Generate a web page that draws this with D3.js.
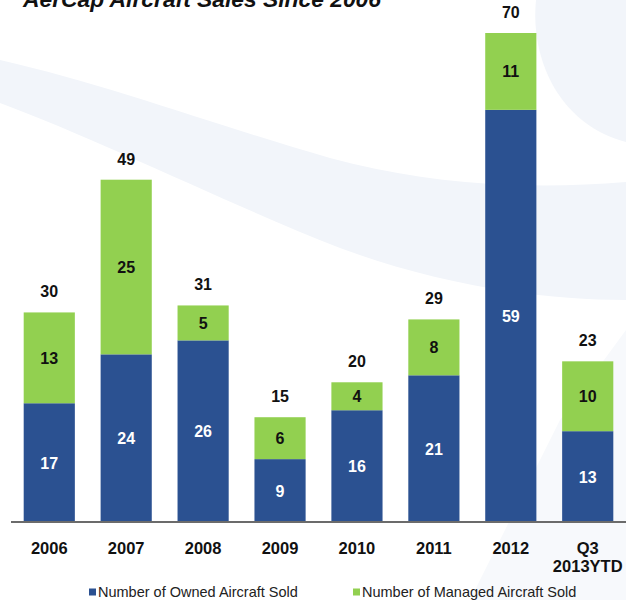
<!DOCTYPE html>
<html>
<head>
<meta charset="utf-8">
<script src="https://cdn.jsdelivr.net/npm/d3@7"></script>
<style>
  html, body { margin: 0; padding: 0; background: #ffffff; }
  svg { display: block; font-family: "Liberation Sans", Arial, sans-serif; }
</style>
</head>
<body>
<svg id="chart" width="626" height="600"></svg>
<script>
// Aircraft sales per year, split into owned and managed aircraft
const categories = ["2006", "2007", "2008", "2009", "2010", "2011", "2012", "Q3\n2013YTD"];
const owned   = [17, 24, 26, 9, 16, 21, 59, 13];
const managed = [13, 25, 5, 6, 4, 8, 11, 10];
const seriesNames = ["Number of Owned Aircraft Sold", "Number of Managed Aircraft Sold"];
const seriesColors = ["#2b5191", "#92d050"];
const titleText = "AerCap Aircraft Sales Since 2006";

const svg = d3.select("#chart");

// Soft decorative swooshes in the background
const bg = svg.append("g").attr("fill", "#f2f5fa");
bg.append("path")
  .attr("d", "M0,60 C110,85 230,130 330,158 C430,185 530,190 626,182 L626,300 C540,300 440,285 340,248 C230,205 100,140 0,103 Z");
bg.append("path")
  .attr("d", "M536,0 C530,60 560,125 626,142 L626,0 Z");
bg.append("path")
  .attr("fill", "#f7f9fc")
  .attr("d", "M470,600 L560,420 L626,330 L626,600 Z");

const data = categories.map((c, i) => ({ cat: c, owned: owned[i], managed: managed[i] }));
const stack = d3.stack().keys(["owned", "managed"])(data);

const x = d3.scaleBand().domain(categories).range([11, 626]).paddingInner(0.335).paddingOuter(0.165);
const y = d3.scaleLinear().domain([0, 70]).range([522, 33]);

// Title (runs off the top edge)
svg.append("text")
  .attr("x", 23).attr("y", 7)
  .attr("font-size", 22).attr("font-weight", "bold").attr("font-style", "italic")
  .attr("fill", "#111")
  .attr("textLength", 358).attr("lengthAdjust", "spacingAndGlyphs")
  .text(titleText);

// Stacked bars
const layers = svg.append("g").selectAll("g")
  .data(stack).join("g")
  .attr("fill", (d, i) => seriesColors[i]);

layers.selectAll("rect")
  .data(d => d.map(s => ({ s, cat: s.data.cat })))
  .join("rect")
  .attr("x", d => x(d.cat))
  .attr("width", x.bandwidth())
  .attr("y", d => y(d.s[1]))
  .attr("height", d => y(d.s[0]) - y(d.s[1]));

// Segment value labels
stack.forEach((layer, li) => {
  svg.append("g").selectAll("text")
    .data(layer).join("text")
    .attr("x", d => x(d.data.cat) + x.bandwidth() / 2)
    .attr("y", d => (y(d[0]) + y(d[1])) / 2 + 6)
    .attr("text-anchor", "middle")
    .attr("font-size", 16).attr("font-weight", "bold")
    .attr("fill", li === 0 ? "#ffffff" : "#111111")
    .text(d => d[1] - d[0]);
});

// Totals above each bar
svg.append("g").selectAll("text")
  .data(data).join("text")
  .attr("x", d => x(d.cat) + x.bandwidth() / 2)
  .attr("y", d => y(d.owned + d.managed) - 15)
  .attr("text-anchor", "middle")
  .attr("font-size", 16).attr("font-weight", "bold")
  .attr("fill", "#111")
  .text(d => d.owned + d.managed);

// Category axis
const xAxis = svg.append("g").attr("transform", "translate(0,522)")
  .call(d3.axisBottom(x).tickSize(0).tickFormat(""));
xAxis.select(".domain").attr("stroke", "#6b6b6b").attr("stroke-width", 2).attr("d", "M11,0H626");

const catLabels = svg.append("g").selectAll("text")
  .data(categories).join("text")
  .attr("x", d => x(d) + x.bandwidth() / 2)
  .attr("y", 554)
  .attr("text-anchor", "middle")
  .attr("font-size", 16.5).attr("font-weight", "bold")
  .attr("fill", "#111");
catLabels.each(function(d) {
  const lines = d.split("\n");
  d3.select(this).selectAll("tspan").data(lines).join("tspan")
    .attr("x", x(d) + x.bandwidth() / 2)
    .attr("dy", (l, i) => i === 0 ? 0 : 18)
    .text(l => l);
});

// Legend
const legendX = [89, 353];
const legend = svg.append("g").selectAll("g")
  .data(seriesNames).join("g")
  .attr("transform", (d, i) => `translate(${legendX[i]},592)`);
legend.append("rect")
  .attr("x", 0).attr("y", -3.5).attr("width", 7).attr("height", 7)
  .attr("fill", (d, i) => seriesColors[i]);
legend.append("text")
  .attr("x", 9).attr("y", 5)
  .attr("font-size", 14.5)
  .attr("fill", "#222")
  .text(d => d);
</script>
</body>
</html>
